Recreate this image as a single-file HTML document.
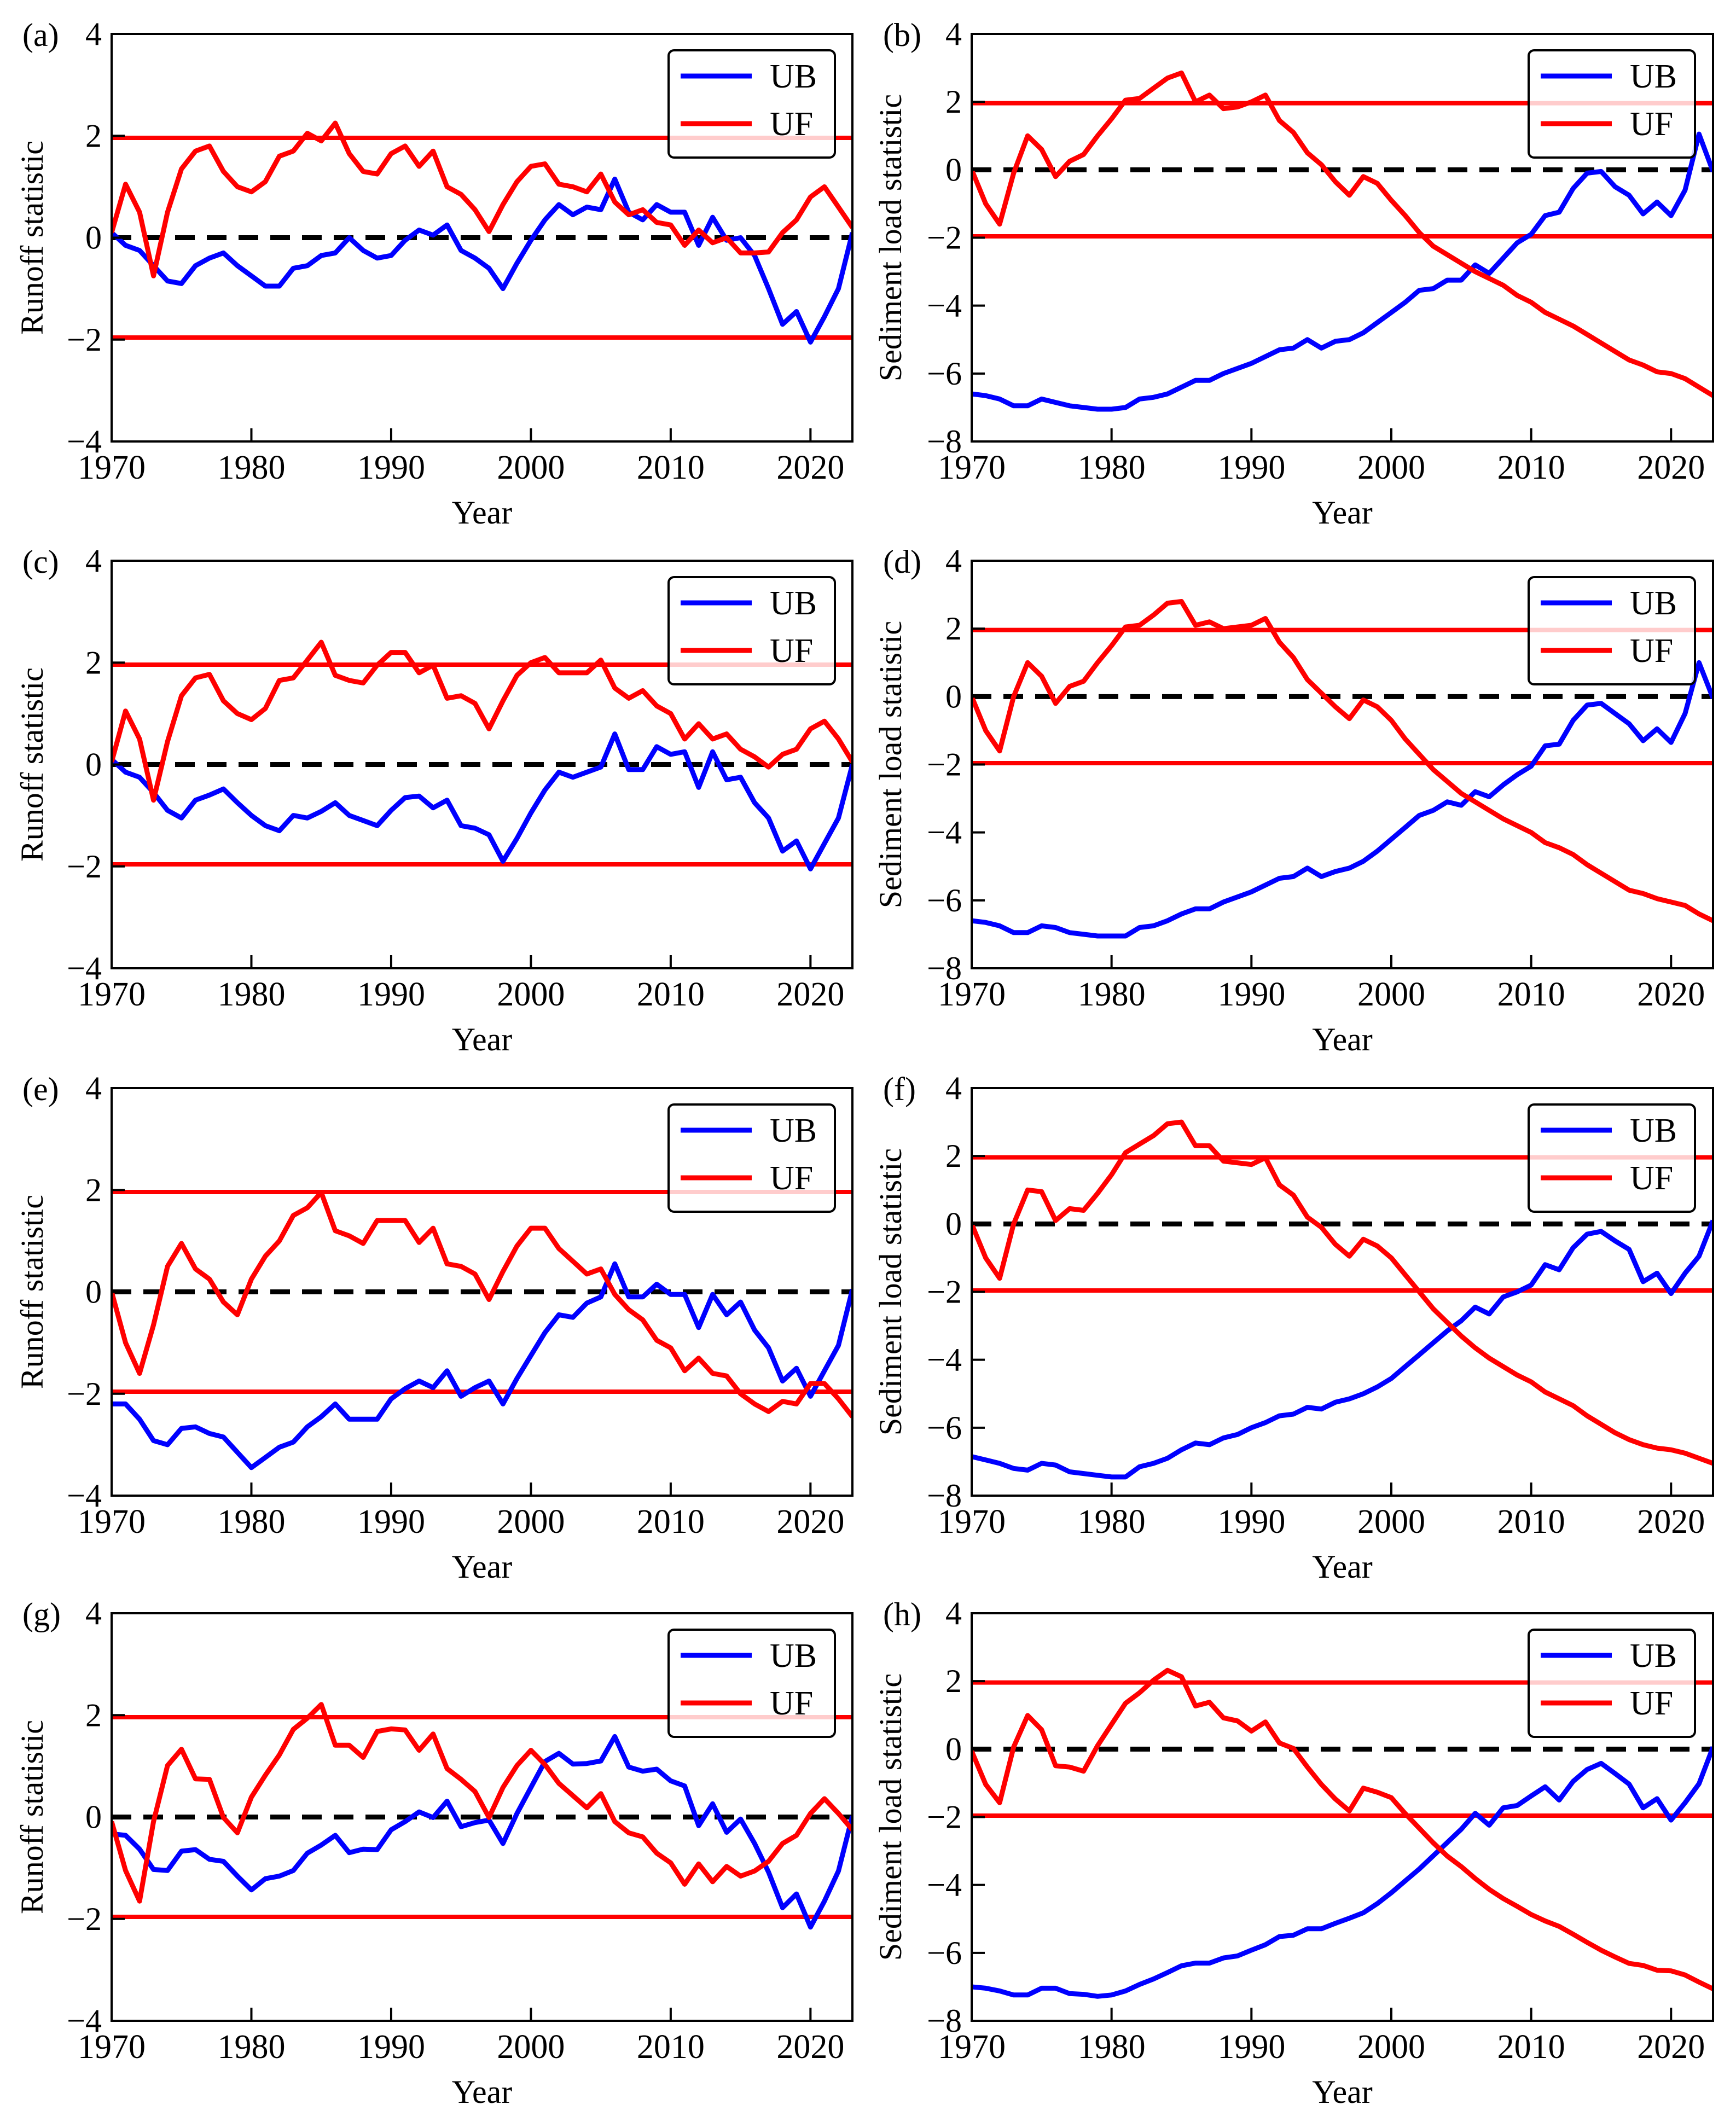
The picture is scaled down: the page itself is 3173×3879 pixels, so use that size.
<!DOCTYPE html>
<html><head><meta charset="utf-8">
<style>
html,body{margin:0;padding:0;background:#fff;}
svg{display:block;}
text{font-family:"Liberation Serif","Times New Roman",serif;fill:#000;}
</style></head>
<body>
<svg id="fig" xmlns="http://www.w3.org/2000/svg" width="3173" height="3879" viewBox="0 0 3173 3879"></svg>
<script>
const years = [];
for (let y = 1970; y <= 2023; y++) years.push(y);
const xTicks = [1970, 1980, 1990, 2000, 2010, 2020];
const runoffTicks = [4, 2, 0, -2, -4];
const sedTicks = [4, 2, 0, -2, -4, -6, -8];
const threshold = 1.96;

const aUF = [0.1,1.05,0.5,-0.75,0.5,1.35,1.7,1.8,1.3,1.0,0.9,1.1,1.6,1.7,2.05,1.9,2.25,1.65,1.3,1.25,1.65,1.8,1.4,1.7,1.0,0.85,0.55,0.12,0.65,1.1,1.4,1.45,1.05,1.0,0.9,1.25,0.7,0.45,0.55,0.3,0.25,-0.15,0.15,-0.1,0.0,-0.3,-0.3,-0.28,0.1,0.35,0.8,1.0,0.6,0.2];
const aUB = [0.1,-0.15,-0.25,-0.55,-0.85,-0.9,-0.55,-0.4,-0.3,-0.55,-0.75,-0.95,-0.95,-0.6,-0.55,-0.35,-0.3,0.0,-0.25,-0.4,-0.35,-0.05,0.15,0.05,0.25,-0.25,-0.4,-0.6,-1.0,-0.5,-0.05,0.35,0.65,0.45,0.6,0.55,1.15,0.5,0.35,0.65,0.5,0.5,-0.15,0.4,-0.05,0.0,-0.35,-1.0,-1.7,-1.45,-2.05,-1.55,-1.0,0.1];
const bUF = [0,-1.0,-1.6,-0.1,1.0,0.6,-0.2,0.25,0.45,1.0,1.5,2.05,2.1,2.4,2.7,2.85,2.0,2.2,1.8,1.85,2.0,2.2,1.45,1.1,0.5,0.15,-0.35,-0.75,-0.2,-0.4,-0.9,-1.35,-1.85,-2.25,-2.5,-2.75,-3.0,-3.2,-3.4,-3.7,-3.9,-4.2,-4.4,-4.6,-4.85,-5.1,-5.35,-5.6,-5.75,-5.95,-6.0,-6.15,-6.4,-6.65];
const bUB = [-6.6,-6.65,-6.75,-6.95,-6.95,-6.75,-6.85,-6.95,-7.0,-7.05,-7.05,-7.0,-6.75,-6.7,-6.6,-6.4,-6.2,-6.2,-6.0,-5.85,-5.7,-5.5,-5.3,-5.25,-5.0,-5.25,-5.05,-5.0,-4.8,-4.5,-4.2,-3.9,-3.55,-3.5,-3.25,-3.25,-2.8,-3.05,-2.6,-2.15,-1.9,-1.35,-1.25,-0.55,-0.1,-0.05,-0.5,-0.75,-1.3,-0.95,-1.35,-0.6,1.05,-0.05];
const cUF = [0.05,1.05,0.5,-0.7,0.45,1.35,1.7,1.77,1.25,1.0,0.88,1.1,1.65,1.7,2.05,2.4,1.75,1.65,1.6,1.95,2.2,2.2,1.8,1.95,1.3,1.35,1.2,0.7,1.25,1.75,2.0,2.1,1.8,1.8,1.8,2.05,1.5,1.3,1.45,1.15,1.0,0.5,0.8,0.5,0.6,0.3,0.15,-0.05,0.2,0.3,0.7,0.85,0.5,0.05];
const cUB = [0.1,-0.15,-0.25,-0.55,-0.9,-1.05,-0.7,-0.6,-0.48,-0.75,-1.0,-1.2,-1.3,-1.0,-1.05,-0.92,-0.75,-1.0,-1.1,-1.2,-0.9,-0.65,-0.62,-0.85,-0.7,-1.2,-1.25,-1.38,-1.9,-1.45,-0.95,-0.5,-0.15,-0.25,-0.15,-0.05,0.6,-0.1,-0.1,0.35,0.2,0.25,-0.45,0.25,-0.3,-0.25,-0.75,-1.05,-1.7,-1.5,-2.05,-1.55,-1.05,0.0];
const dUF = [0,-1.0,-1.6,0.0,1.0,0.6,-0.2,0.3,0.45,1.0,1.5,2.05,2.1,2.4,2.75,2.8,2.1,2.2,2.0,2.05,2.1,2.3,1.6,1.15,0.5,0.1,-0.3,-0.65,-0.1,-0.3,-0.7,-1.25,-1.7,-2.15,-2.5,-2.85,-3.1,-3.35,-3.6,-3.8,-4.0,-4.3,-4.45,-4.65,-4.95,-5.2,-5.45,-5.7,-5.8,-5.95,-6.05,-6.15,-6.4,-6.6];
const dUB = [-6.6,-6.65,-6.75,-6.95,-6.95,-6.75,-6.8,-6.95,-7.0,-7.05,-7.05,-7.05,-6.8,-6.75,-6.6,-6.4,-6.25,-6.25,-6.05,-5.9,-5.75,-5.55,-5.35,-5.3,-5.05,-5.3,-5.15,-5.05,-4.85,-4.55,-4.2,-3.85,-3.5,-3.35,-3.1,-3.2,-2.8,-2.95,-2.6,-2.3,-2.05,-1.45,-1.4,-0.7,-0.25,-0.2,-0.5,-0.8,-1.3,-0.95,-1.35,-0.5,1.0,-0.05];
const eUF = [0,-1.0,-1.6,-0.65,0.5,0.95,0.45,0.25,-0.2,-0.45,0.25,0.7,1.0,1.5,1.65,1.95,1.2,1.1,0.95,1.4,1.4,1.4,0.97,1.25,0.55,0.5,0.35,-0.15,0.4,0.9,1.25,1.25,0.85,0.6,0.35,0.45,-0.05,-0.35,-0.55,-0.95,-1.1,-1.55,-1.3,-1.6,-1.65,-2.0,-2.2,-2.35,-2.15,-2.2,-1.8,-1.8,-2.1,-2.45];
const eUB = [-2.2,-2.2,-2.5,-2.92,-3.0,-2.68,-2.65,-2.78,-2.85,-3.15,-3.45,-3.25,-3.05,-2.95,-2.65,-2.45,-2.2,-2.5,-2.5,-2.5,-2.1,-1.9,-1.75,-1.88,-1.55,-2.05,-1.88,-1.75,-2.2,-1.7,-1.25,-0.8,-0.45,-0.5,-0.22,-0.1,0.55,-0.1,-0.1,0.15,-0.05,-0.05,-0.7,-0.05,-0.45,-0.2,-0.75,-1.1,-1.75,-1.5,-2.05,-1.55,-1.05,0.05];
const fUF = [0,-1.0,-1.6,0.0,1.0,0.95,0.1,0.45,0.4,0.9,1.45,2.1,2.35,2.6,2.95,3.0,2.3,2.3,1.85,1.8,1.75,1.95,1.15,0.85,0.2,-0.1,-0.6,-0.95,-0.45,-0.65,-1.0,-1.5,-2.0,-2.5,-2.9,-3.3,-3.65,-3.95,-4.2,-4.45,-4.65,-4.95,-5.15,-5.35,-5.65,-5.9,-6.15,-6.35,-6.5,-6.6,-6.65,-6.75,-6.9,-7.05];
const fUB = [-6.85,-6.95,-7.05,-7.2,-7.25,-7.05,-7.1,-7.3,-7.35,-7.4,-7.45,-7.45,-7.15,-7.05,-6.9,-6.65,-6.45,-6.5,-6.3,-6.2,-6.0,-5.85,-5.65,-5.6,-5.4,-5.45,-5.25,-5.15,-5.0,-4.8,-4.55,-4.2,-3.85,-3.5,-3.15,-2.85,-2.45,-2.65,-2.15,-2.0,-1.8,-1.2,-1.35,-0.7,-0.3,-0.22,-0.5,-0.75,-1.7,-1.45,-2.05,-1.45,-0.95,0.1];
const gUF = [-0.09,-1.05,-1.65,-0.09,1.01,1.33,0.75,0.74,-0.01,-0.31,0.39,0.82,1.22,1.72,1.94,2.21,1.41,1.41,1.17,1.68,1.73,1.71,1.31,1.63,0.95,0.74,0.5,-0.01,0.58,1.01,1.31,1.03,0.66,0.42,0.18,0.46,-0.09,-0.31,-0.39,-0.71,-0.9,-1.32,-0.92,-1.27,-0.97,-1.16,-1.06,-0.87,-0.52,-0.36,0.07,0.36,0.07,-0.25];
const gUB = [-0.33,-0.36,-0.63,-1.03,-1.05,-0.67,-0.64,-0.83,-0.87,-1.16,-1.43,-1.21,-1.16,-1.05,-0.71,-0.55,-0.36,-0.7,-0.63,-0.64,-0.25,-0.09,0.1,-0.01,0.31,-0.19,-0.11,-0.06,-0.52,0.07,0.58,1.09,1.25,1.04,1.05,1.1,1.58,0.98,0.9,0.94,0.71,0.61,-0.17,0.26,-0.3,-0.04,-0.52,-1.08,-1.78,-1.51,-2.16,-1.65,-1.06,0.02];
const hUF = [-0.06,-1.04,-1.58,0.06,0.99,0.57,-0.49,-0.53,-0.65,0.1,0.73,1.35,1.66,2.03,2.32,2.13,1.27,1.38,0.92,0.83,0.53,0.8,0.18,0.02,-0.53,-1.04,-1.47,-1.82,-1.15,-1.27,-1.43,-1.9,-2.33,-2.76,-3.15,-3.46,-3.81,-4.13,-4.4,-4.63,-4.87,-5.06,-5.22,-5.45,-5.69,-5.92,-6.12,-6.31,-6.37,-6.51,-6.53,-6.65,-6.86,-7.06];
const hUB = [-7.0,-7.04,-7.12,-7.24,-7.24,-7.04,-7.04,-7.2,-7.22,-7.28,-7.24,-7.12,-6.93,-6.77,-6.58,-6.38,-6.3,-6.3,-6.15,-6.09,-5.92,-5.76,-5.52,-5.48,-5.29,-5.29,-5.13,-4.98,-4.82,-4.55,-4.23,-3.88,-3.53,-3.14,-2.75,-2.36,-1.89,-2.24,-1.73,-1.66,-1.38,-1.11,-1.5,-0.95,-0.6,-0.42,-0.72,-1.03,-1.73,-1.46,-2.09,-1.58,-1.02,0.06];

const NS = "http://www.w3.org/2000/svg";
const svg = document.getElementById("fig");
function mk(tag, attrs, parent) {
  const e = document.createElementNS(NS, tag);
  for (const k in attrs) e.setAttribute(k, attrs[k]);
  (parent || svg).appendChild(e);
  return e;
}

const rowTops = [62, 1025, 1989, 2949];
const panelH = 745;
const cols = [
  {x0: 204, x1: 1558, lab: 41, ylabX: 58, ymin: -4, ymax: 4, ticks: runoffTicks, title: "Runoff statistic", legX: 1222},
  {x0: 1776, x1: 3131, lab: 1614, ylabX: 1627, ymin: -8, ymax: 4, ticks: sedTicks, title: "Sediment load statistic", legX: 2794}
];
const panels = [
  {id: "a", row: 0, col: 0, uf: aUF, ub: aUB},
  {id: "b", row: 0, col: 1, uf: bUF, ub: bUB},
  {id: "c", row: 1, col: 0, uf: cUF, ub: cUB},
  {id: "d", row: 1, col: 1, uf: dUF, ub: dUB},
  {id: "e", row: 2, col: 0, uf: eUF, ub: eUB},
  {id: "f", row: 2, col: 1, uf: fUF, ub: fUB},
  {id: "g", row: 3, col: 0, uf: gUF, ub: gUB},
  {id: "h", row: 3, col: 1, uf: hUF, ub: hUB}
];

panels.forEach(p => {
  const c = cols[p.col];
  const top = rowTops[p.row], bot = top + panelH;
  const xs = v => c.x0 + (v - 1970) / (2023 - 1970) * (c.x1 - c.x0);
  const ys = v => bot - (v - c.ymin) / (c.ymax - c.ymin) * (bot - top);
  const g = mk("g", {});
  
  

  const clipId = "clip" + p.id;
  const cp = mk("clipPath", {id: clipId}, g);
  mk("rect", {x: c.x0, y: top, width: c.x1 - c.x0, height: bot - top}, cp);

  [threshold, -threshold].forEach((t, i) => {
    const l = mk("line", {x1: c.x0, x2: c.x1, y1: ys(t), y2: ys(t), stroke: "#ff0000", "stroke-width": 8}, g);
    
    
  });
  const z = mk("line", {x1: c.x0, x2: c.x1, y1: ys(0), y2: ys(0), stroke: "#000", "stroke-width": 9, "stroke-dasharray": "36 22"}, g);
  
  

  const drawSeries = (vals, color, name) => {
    const pts = vals.map((v, i) => xs(years[i]).toFixed(1) + "," + ys(v).toFixed(1)).join(" ");
    const pl = mk("polyline", {points: pts, fill: "none", stroke: color, "stroke-width": 9, "stroke-linejoin": "round", "clip-path": "url(#" + clipId + ")"}, g);
    
    
  };
  drawSeries(p.ub, "#0000ff", "ub-series-line");
  drawSeries(p.uf, "#ff0000", "uf-series-line");

  const fr = mk("rect", {x: c.x0, y: top, width: c.x1 - c.x0, height: bot - top, fill: "none", stroke: "#000", "stroke-width": 4}, g);
  
  

  c.ticks.forEach(t => {
    const y = ys(t);
    const tk = mk("line", {x1: c.x0, x2: c.x0 + 24, y1: y, y2: y, stroke: "#000", "stroke-width": 4}, g);
    
    
    const tx = mk("text", {x: c.x0 - 18, y: y + 20, "font-size": 60, "text-anchor": "end"}, g);
    tx.textContent = t < 0 ? "\u2212" + Math.abs(t) : String(t);
    
    
  });
  xTicks.forEach(t => {
    const x = xs(t);
    const tk = mk("line", {x1: x, x2: x, y1: bot, y2: bot - 24, stroke: "#000", "stroke-width": 4}, g);
    
    
    const tx = mk("text", {x: x, y: bot + 68, "font-size": 62, "text-anchor": "middle"}, g);
    tx.textContent = String(t);
    
    
  });
  const xt = mk("text", {x: (c.x0 + c.x1) / 2, y: bot + 150, "font-size": 60, "text-anchor": "middle"}, g);
  xt.textContent = "Year";
  
  
  const cy = (top + bot) / 2;
  const yt = mk("text", {x: c.ylabX, y: cy, "font-size": 58, "text-anchor": "middle", transform: "rotate(-90 " + c.ylabX + " " + cy + ") translate(0 20)"}, g);
  yt.textContent = c.title;
  
  
  const pl = mk("text", {x: c.lab, y: top + 22, "font-size": 60}, g);
  pl.textContent = "(" + p.id + ")";
  
  

  const lg = mk("g", {}, g);
  
  
  const lx = c.legX, ly = top + 30;
  mk("rect", {x: lx, y: ly, width: 304, height: 196, rx: 10, fill: "#fff", "fill-opacity": 0.8, stroke: "#000", "stroke-width": 4}, lg);
  const e1 = mk("line", {x1: lx + 22, x2: lx + 152, y1: ly + 47, y2: ly + 47, stroke: "#0000ff", "stroke-width": 9}, lg);
  
  
  const t1 = mk("text", {x: lx + 185, y: ly + 68, "font-size": 62}, lg);
  t1.textContent = "UB";
  
  
  const e2 = mk("line", {x1: lx + 22, x2: lx + 152, y1: ly + 134, y2: ly + 134, stroke: "#ff0000", "stroke-width": 9}, lg);
  
  
  const t2 = mk("text", {x: lx + 185, y: ly + 155, "font-size": 62}, lg);
  t2.textContent = "UF";
  
  
});
</script>
</body></html>
